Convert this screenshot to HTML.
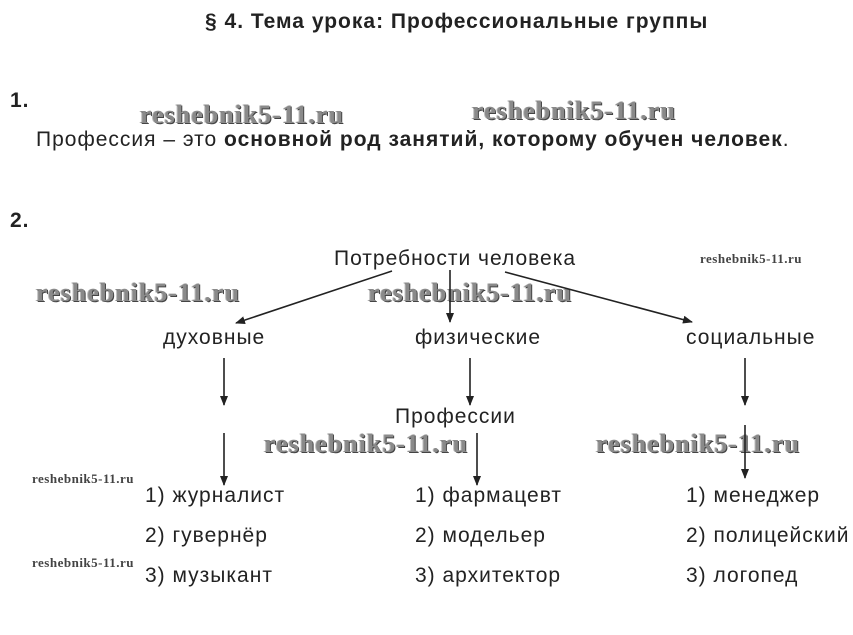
<!DOCTYPE html>
<html><head><meta charset="utf-8"><style>
body{margin:0;width:853px;height:635px;background:#fff;position:relative;overflow:hidden;font-family:"Liberation Sans",sans-serif;color:#222}
.t{position:absolute;font-size:21px;letter-spacing:1px;white-space:nowrap;line-height:1}
.b{font-weight:bold}
.w{position:absolute;font-family:"Liberation Serif",serif;font-weight:bold;font-size:26px;letter-spacing:1px;color:#8a8a8a;white-space:nowrap;line-height:1;text-shadow:1px 1px 0 #444,-1px 0 0 #bbb}
.ws{position:absolute;font-family:"Liberation Serif",serif;font-weight:bold;font-size:13px;letter-spacing:0.5px;color:#444;white-space:nowrap;line-height:1}
svg{position:absolute;left:0;top:0}
</style></head><body>
<div class="t b" style="left:205px;top:11px">§ 4. Тема урока: Профессиональные группы</div>
<div class="t b" style="left:10px;top:90px">1.</div>
<div class="w" style="left:140px;top:102px">reshebnik5-11.ru</div>
<div class="w" style="left:472px;top:98px">reshebnik5-11.ru</div>
<div class="t" style="left:36px;top:129px">Профессия – это <b>основной род занятий, которому обучен человек</b>.</div>
<div class="t b" style="left:10px;top:210px">2.</div>
<div class="t" style="left:334px;top:248px">Потребности человека</div>
<div class="ws" style="left:700px;top:252px">reshebnik5-11.ru</div>
<div class="w" style="left:36px;top:280px">reshebnik5-11.ru</div>
<div class="w" style="left:368px;top:280px">reshebnik5-11.ru</div>
<div class="t" style="left:163px;top:327px">духовные</div>
<div class="t" style="left:415px;top:327px">физические</div>
<div class="t" style="left:686px;top:327px">социальные</div>
<div class="t" style="left:395px;top:406px">Профессии</div>
<div class="w" style="left:264px;top:431px">reshebnik5-11.ru</div>
<div class="w" style="left:596px;top:431px">reshebnik5-11.ru</div>
<div class="ws" style="left:32px;top:472px">reshebnik5-11.ru</div>
<div class="ws" style="left:32px;top:556px">reshebnik5-11.ru</div>
<div class="t" style="left:145px;top:485px">1) журналист</div>
<div class="t" style="left:145px;top:525px">2) гувернёр</div>
<div class="t" style="left:145px;top:565px">3) музыкант</div>
<div class="t" style="left:415px;top:485px">1) фармацевт</div>
<div class="t" style="left:415px;top:525px">2) модельер</div>
<div class="t" style="left:415px;top:565px">3) архитектор</div>
<div class="t" style="left:686px;top:485px">1) менеджер</div>
<div class="t" style="left:686px;top:525px">2) полицейский</div>
<div class="t" style="left:686px;top:565px">3) логопед</div>
<svg width="853" height="635"><defs><marker id="a" markerWidth="10" markerHeight="10" refX="9" refY="5" orient="auto" markerUnits="userSpaceOnUse"><path d="M0,1 L10,5 L0,9z" fill="#222"/></marker></defs>
<g stroke="#222" stroke-width="1.6" marker-end="url(#a)">
<line x1="392" y1="271" x2="236" y2="323"/>
<line x1="450" y1="270" x2="450" y2="322"/>
<line x1="505" y1="272" x2="692" y2="322"/>
<line x1="224" y1="358" x2="224" y2="405"/>
<line x1="470" y1="358" x2="470" y2="405"/>
<line x1="745" y1="358" x2="745" y2="405"/>
<line x1="224" y1="433" x2="224" y2="485"/>
<line x1="477" y1="433" x2="477" y2="485"/>
<line x1="745" y1="425" x2="745" y2="478"/>
</g></svg>
</body></html>
